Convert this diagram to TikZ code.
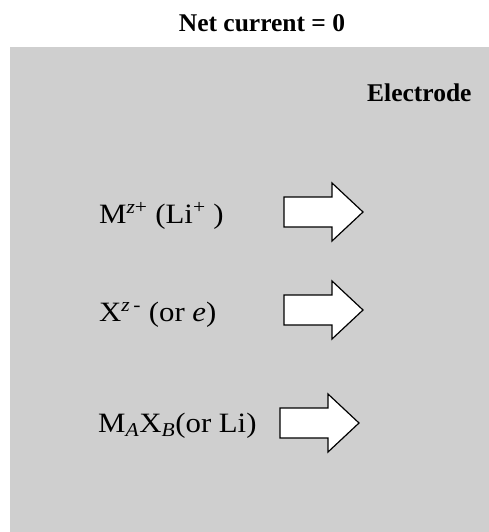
\documentclass[tikz,border=0pt]{standalone}
\usepackage{fontspec}
\setmainfont{Liberation Serif}
\definecolor{electrodegray}{HTML}{CFCFCF}
\usetikzlibrary{positioning}

\newcommand{\widetext}[1]{\scalebox{1.1}[1]{#1}}

\tikzset{
  headtext/.style={font=\bfseries\fontsize{25.5}{30}\selectfont, inner sep=0pt},
  species/.style={font=\fontsize{28}{33}\selectfont, anchor=base west, inner sep=0pt},
  fluxarrow/.style={draw=black, fill=white, line width=1.2pt, line join=miter}
}

\begin{document}
\begin{tikzpicture}[x=1pt,y=-1pt]
\useasboundingbox (0,0) rectangle (489,532);
% Electrode region
\fill[electrodegray] (10,47) rectangle (489,532);
\node[headtext, anchor=base] (title) at (262,32) {Net current = 0};
\node[headtext, anchor=base west] (electrode) at (367,102) {Electrode};

% Transported species
\node[species] (cation) at (99,223) {\widetext{M\textsuperscript{\textit{z}+} (Li\textsuperscript{+} )}};
\node[species] (anion) at (99,321) {\widetext{X\textsuperscript{\textit{z}\,-} (or \textit{e})}};
\node[species] (neutral) at (98,432) {\widetext{M\textsubscript{\textit{A}}X\textsubscript{\textit{B}}(or Li)}};

% Flux arrows
\foreach \xc/\yc in {284/212, 284/310, 280/423}{
  \draw[fluxarrow] (\xc,\yc-15) -- ++(48,0) -- ++(0,-14) -- (\xc+79,\yc)
    -- (\xc+48,\yc+29) -- ++(0,-14) -- (\xc,\yc+15) -- cycle;
}
\end{tikzpicture}
\end{document}
